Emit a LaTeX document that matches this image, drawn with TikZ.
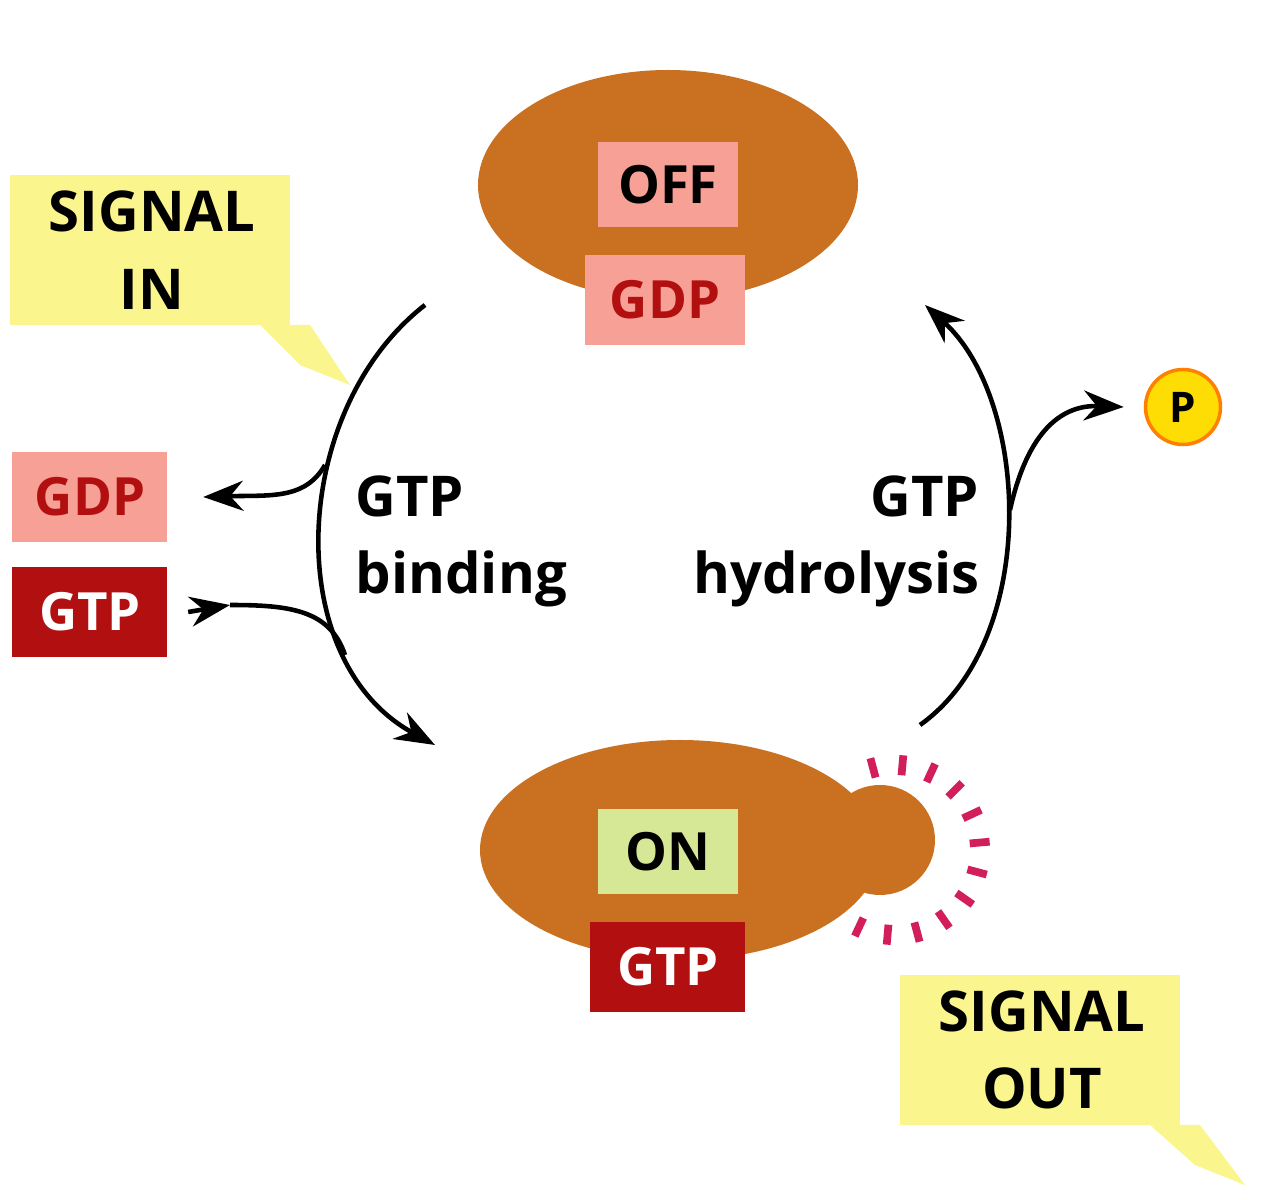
\documentclass[tikz,border=0pt]{standalone}
\usepackage{fontspec}
\setmainfont{Open Sans}
\usetikzlibrary{calc,positioning,arrows.meta,shapes.geometric}
\definecolor{Shell}{RGB}{201,113,32}
\definecolor{Callout}{RGB}{250,245,140}
\definecolor{PaleRed}{RGB}{246,160,150}
\definecolor{DeepRed}{RGB}{178,16,16}
\definecolor{Lime}{RGB}{214,232,150}
\definecolor{Ray}{RGB}{210,30,90}
\tikzset{
  box/.style={minimum width=1.55cm,minimum height=0.9cm,inner sep=0pt,font=\fontsize{15}{15}\selectfont\bfseries},
  gdp/.style={box,fill=PaleRed,text=DeepRed},
  gtp/.style={box,fill=DeepRed,text=white},
  lbl/.style={font=\fontsize{16}{22}\selectfont\bfseries,align=left,inner sep=0pt},
  flow/.style={line width=1.3pt,-{Stealth[length=4mm,width=3mm]}}
}
\begin{document}
\begin{tikzpicture}[x=1cm,y=1cm]
  \useasboundingbox (0,0) rectangle (12.86,12);
  % callouts
  \fill[Callout] (0.1,8.75) rectangle (2.9,10.25);
  \fill[Callout] (2.6,8.75) -- (3.1,8.75) -- (3.5,8.15) -- (3.0,8.35) -- cycle;
  \node[lbl,align=center] (sin) at (1.52,9.5) {SIGNAL\\IN};
  \fill[Callout] (9.0,0.75) rectangle (11.8,2.25);
  \fill[Callout] (11.5,0.75) -- (12.0,0.75) -- (12.45,0.15) -- (11.95,0.35) -- cycle;
  \node[lbl,align=center] (sout) at (10.42,1.5) {SIGNAL\\OUT};
  % OFF protein
  \node[ellipse,fill=Shell,minimum width=3.8cm,minimum height=2.3cm] (off) at (6.68,10.15) {};
  \node[box,fill=PaleRed,minimum width=1.4cm,minimum height=0.85cm] (offl) at (6.68,10.15) {OFF};
  \node[gdp,minimum width=1.6cm] (gdpt) at (6.65,9.0) {GDP};
  % ON protein
  \fill[Shell] (8.8,3.6) circle (0.55);
  \node[ellipse,fill=Shell,minimum width=4.0cm,minimum height=2.2cm] (on) at (6.8,3.5) {};
  \node[box,fill=Lime,minimum width=1.4cm,minimum height=0.85cm] (onl) at (6.68,3.48) {ON};
  \node[gtp] (gtpb) at (6.68,2.33) {GTP};
  \foreach \a in {-115,-95,...,115}
    \draw[Ray,line width=2.2pt] ($(8.95,3.5)+(\a:0.75)$) -- ($(8.95,3.5)+(\a:0.95)$);
  % free nucleotides
  \node[gdp] (gdpf) at (0.9,7.03) {GDP};
  \node[gtp] (gtpf) at (0.9,5.88) {GTP};
  \node[circle,fill=yellow!80!orange,draw=orange,line width=1pt,minimum size=0.75cm,inner sep=0pt,font=\bfseries\large] (pi) at (11.83,7.93) {P};
  \coordinate (la) at (4.25,8.95);
  \coordinate (lb) at (4.35,4.55);
  \coordinate (ra) at (9.2,4.75);
  \coordinate (rb) at (9.25,8.95);
  \coordinate (gin) at (2.3,5.95);
  % cycle arrows
  \draw[flow] (la) .. controls (2.9,7.9) and (2.8,5.4) .. (lb);
  \draw[flow] (3.25,7.35) .. controls (3.05,7.0) and (2.7,7.05) .. ([xshift=0.35cm]gdpf.east);
  \draw[flow] ([xshift=0.2cm]gtpf.east) -- (gin);
  \draw[line width=1.3pt] (gin) .. controls (2.9,5.95) and (3.3,5.9) .. (3.45,5.45);
  \draw[flow] (ra) .. controls (10.4,5.6) and (10.3,8.0) .. (rb);
  \draw[flow] (10.1,6.9) .. controls (10.3,7.8) and (10.7,7.95) .. ([xshift=-0.2cm]pi.west);
  \node[lbl,anchor=north west] (bind) at (3.55,7.25) {GTP\\binding};
  \node[lbl,align=right,anchor=north east] (hyd) at (9.8,7.25) {GTP\\hydrolysis};
\end{tikzpicture}
\end{document}
